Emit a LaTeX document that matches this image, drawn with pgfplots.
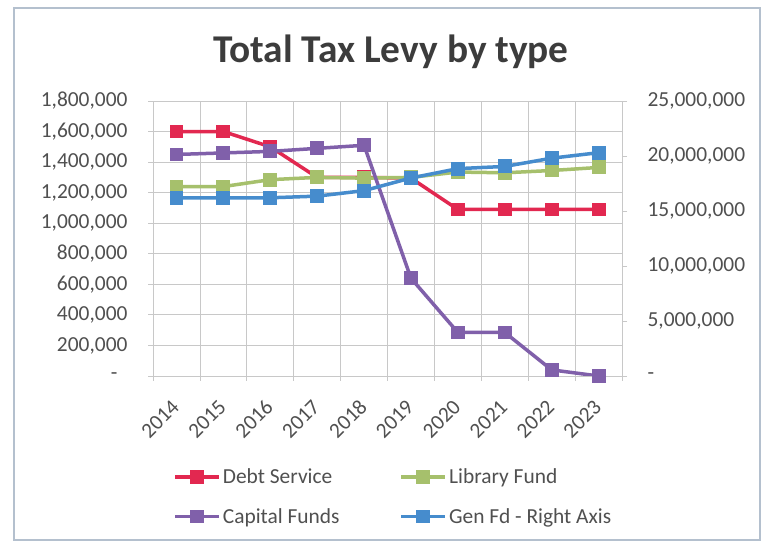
\documentclass[border=0pt]{standalone}
\usepackage{pgfplots}
\pgfplotsset{compat=1.18}
\usepackage{fontspec}
\setmainfont{Carlito}
\definecolor{debtc}{RGB}{226,40,80}
\definecolor{libc}{RGB}{166,192,108}
\definecolor{capc}{RGB}{128,96,170}
\definecolor{genc}{RGB}{70,140,205}
\definecolor{txt}{RGB}{80,80,80}
\definecolor{ttl}{RGB}{60,60,60}
\definecolor{gridc}{RGB}{200,200,200}
\definecolor{framec}{RGB}{180,192,206}
\begin{document}
\begin{tikzpicture}[x=1bp,y=1bp]
\fill[white] (0,0) rectangle (763,546);
\draw[framec, line width=1.2bp] (14,6) rectangle (760,538);
\node[anchor=base, font=\fontsize{39.5}{46}\selectfont\bfseries, text=ttl] at (391,483) {Total Tax Levy by type};
\pgfplotsset{
  common/.style={
    scale only axis, width=469bp, height=275bp,
    at={(153bp,170bp)}, anchor=south west,
    xmin=-0.5, xmax=9.5, ymin=0,
    scaled y ticks=false,
    tick align=outside,
    tick style={gridc, line width=0.8bp},
    major tick length=5bp, minor tick length=5bp,
    ticklabel style={font=\fontsize{21.5}{24}\selectfont, text=txt},
    every axis plot/.append style={line width=3.5bp, mark=square*, mark size=5.2bp},
  },
}
\begin{axis}[common,
  ymax=1800000,
  axis line style={gridc, line width=0.8bp},
  xtick={0,...,9},
  xticklabels={2014,2015,2016,2017,2018,2019,2020,2021,2022,2023},
  major x tick style={draw=none},
  minor xtick={-0.5,0.5,...,9.5},
  xminorgrids=true,
  minor x grid style={gridc, line width=0.8bp},
  xticklabel style={xshift=1.5bp, yshift=-20bp, rotate=45, anchor=east},
  ytick={0,200000,...,1800000},
  yticklabels={{-\hspace*{10bp}},{200,000},{400,000},{600,000},{800,000},{1,000,000},{1,200,000},{1,400,000},{1,600,000},{1,800,000}},
  ymajorgrids=true,
  major y grid style={gridc, line width=0.8bp},
  ytick pos=left, xtick pos=bottom,
  yticklabel style={xshift=-17bp},
  legend columns=2,
  legend cell align=left,
  legend style={at={(axis description cs:0.043,-0.33)}, anchor=north west,
    draw=none, fill=none, inner sep=0pt,
    font=\fontsize{21.5}{24}\selectfont, text=txt,
    nodes={inner sep=2bp},
    /tikz/every even column/.append style={column sep=58bp},
    row sep=19bp},
  legend image code/.code={\draw[mark repeat=2, mark phase=2] plot coordinates {(0bp,0bp) (22bp,0bp) (44bp,0bp)};},
]
\addplot[debtc] coordinates {(0,1600000) (1,1600000) (2,1500000) (3,1300000) (4,1300000) (5,1295000) (6,1090000) (7,1090000) (8,1090000) (9,1090000)};
\addlegendentry{Debt Service}
\addplot[libc] coordinates {(0,1240000) (1,1240000) (2,1285000) (3,1300000) (4,1295000) (5,1300000) (6,1335000) (7,1330000) (8,1345000) (9,1365000)};
\addlegendentry{Library Fund}
\addplot[capc] coordinates {(0,1450000) (1,1460000) (2,1470000) (3,1490000) (4,1510000) (5,640000) (6,285000) (7,285000) (8,40000) (9,0)};
\addlegendentry{Capital Funds}
\addlegendimage{genc, line width=3.5bp, mark=square*, mark size=5.2bp}
\addlegendentry{Gen Fd - Right Axis}
\end{axis}
\begin{axis}[common,
  ymax=25000000,
  axis x line=none,
  axis y line*=right,
  axis line style={draw=none},
  ytick={0,5000000,...,25000000},
  yticklabels={-,{5,000,000},{10,000,000},{15,000,000},{20,000,000},{25,000,000}},
  yticklabel style={anchor=west, align=left, xshift=17bp},
]
\addplot[genc] coordinates {(0,16200000) (1,16200000) (2,16200000) (3,16350000) (4,16850000) (5,18000000) (6,18850000) (7,19050000) (8,19800000) (9,20300000)};
\end{axis}
\end{tikzpicture}
\end{document}
